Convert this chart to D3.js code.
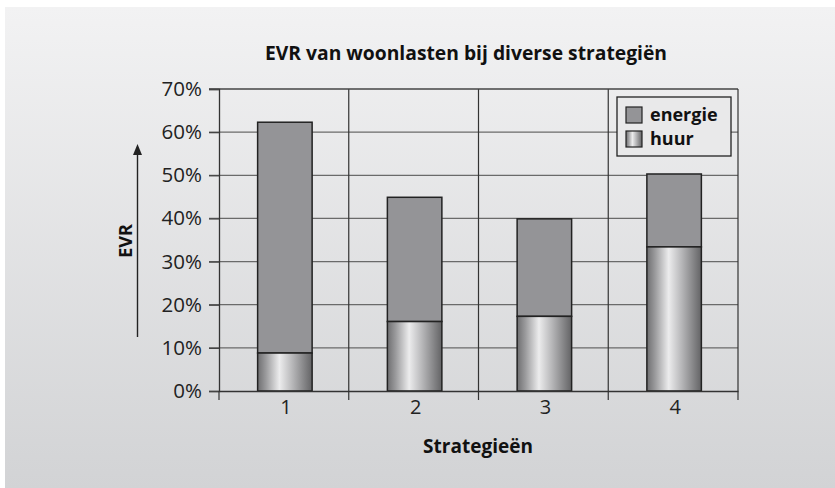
<!DOCTYPE html>
<html>
<head>
<meta charset="utf-8">
<script src="https://cdn.jsdelivr.net/npm/d3@7/dist/d3.min.js"></script>
<style>
  body { margin: 0; background: #fff; }
  svg { display: block; font-family: "Open Sans", Lato, sans-serif; }
</style>
</head>
<body>
<div id="chart"></div>
<script>
// data (fractions)
const strategies = ["1", "2", "3", "4"];
const huur = [0.088, 0.161, 0.173, 0.334];
const energie = [0.535, 0.288, 0.226, 0.169];
const yTicks = [0, 0.1, 0.2, 0.3, 0.4, 0.5, 0.6, 0.7];
const seriesNames = ["energie", "huur"];

const width = 835, height = 488;
const margin = { left: 219, top: 89, right: 97, bottom: 97 };

const svg = d3.select("#chart").append("svg")
  .attr("width", width)
  .attr("height", height);

const defs = svg.append("defs");

//#region gradients
const bg = defs.append("linearGradient").attr("id", "bg")
  .attr("x1", 0).attr("y1", 0).attr("x2", 0).attr("y2", 1);
bg.append("stop").attr("offset", "0%").attr("stop-color", "#f2f2f3");
bg.append("stop").attr("offset", "100%").attr("stop-color", "#d2d3d5");

const cyl = defs.append("linearGradient").attr("id", "cyl")
  .attr("x1", 0).attr("y1", 0).attr("x2", 1).attr("y2", 0);
[["0%", "#6e6e70"], ["15%", "#9a9a9c"], ["40%", "#ececed"], ["65%", "#b4b4b6"], ["100%", "#636365"]]
  .forEach(([o, c]) => cyl.append("stop").attr("offset", o).attr("stop-color", c));
//#endregion

svg.append("rect")
  .attr("x", 5).attr("y", 7)
  .attr("width", width - 5).attr("height", height - 7)
  .attr("fill", "url(#bg)");

//#region scales
const x = d3.scaleBand()
  .domain(strategies)
  .range([margin.left, width - margin.right]);

const y = d3.scaleLinear()
  .domain([0, 0.7])
  .range([height - margin.bottom, margin.top]);
//#endregion

//#region grid
const grid = svg.append("g");
grid.selectAll("line.h")
  .data(yTicks.slice(1, -1))
  .enter().append("line")
  .attr("x1", margin.left - 10).attr("x2", width - margin.right)
  .attr("y1", d => y(d)).attr("y2", d => y(d))
  .attr("stroke", "#6a6a6a").attr("stroke-width", 1.3);

grid.selectAll("line.v")
  .data(strategies.slice(1))
  .enter().append("line")
  .attr("x1", d => x(d)).attr("x2", d => x(d))
  .attr("y1", margin.top).attr("y2", y(0) + 9)
  .attr("stroke", "#333").attr("stroke-width", 1.2);

// top & right frame
grid.append("line")
  .attr("x1", margin.left - 10).attr("x2", width - margin.right)
  .attr("y1", y(0.7)).attr("y2", y(0.7))
  .attr("stroke", "#444").attr("stroke-width", 1.3);
grid.append("line")
  .attr("x1", width - margin.right).attr("x2", width - margin.right)
  .attr("y1", margin.top).attr("y2", y(0) + 9)
  .attr("stroke", "#333").attr("stroke-width", 1.2);
//#endregion

//#region bars
const barW = x.bandwidth() * 0.42;
const bars = svg.append("g");
strategies.forEach((s, i) => {
  const cx = x(s) + x.bandwidth() / 2 + 1;
  bars.append("rect")
    .attr("x", cx - barW / 2)
    .attr("y", y(huur[i] + energie[i]))
    .attr("width", barW)
    .attr("height", y(huur[i]) - y(huur[i] + energie[i]))
    .attr("fill", "#949497")
    .attr("stroke", "#222").attr("stroke-width", 1.5);
  bars.append("rect")
    .attr("x", cx - barW / 2)
    .attr("y", y(huur[i]))
    .attr("width", barW)
    .attr("height", y(0) - y(huur[i]))
    .attr("fill", "url(#cyl)")
    .attr("stroke", "#222").attr("stroke-width", 1.5);
});
//#endregion

//#region axes
const yAxis = svg.append("g")
  .attr("transform", `translate(${margin.left},0)`)
  .call(d3.axisLeft(y).tickValues(yTicks).tickFormat(d3.format(".0%")).tickSize(10).tickPadding(7));
yAxis.select(".domain").attr("stroke", "#333").attr("stroke-width", 1.3);
yAxis.selectAll(".tick line").attr("stroke", "#444").attr("stroke-width", 1.3);
yAxis.selectAll("text")
  .attr("fill", "#222").attr("font-size", 20.5).attr("font-family", "Open Sans");

const xAxis = svg.append("g")
  .attr("transform", `translate(0,${y(0)})`)
  .call(d3.axisBottom(x).tickSize(0).tickPadding(9));
xAxis.select(".domain").attr("stroke", "#333").attr("stroke-width", 1.3);
xAxis.selectAll("text")
  .attr("fill", "#222").attr("font-size", 20).attr("font-family", "Open Sans")
  .attr("dx", 2);

svg.append("line")
  .attr("x1", margin.left).attr("x2", margin.left)
  .attr("y1", y(0)).attr("y2", y(0) + 9)
  .attr("stroke", "#333").attr("stroke-width", 1.2);
//#endregion

//#region titles
svg.append("text")
  .attr("x", 466).attr("y", 60)
  .attr("text-anchor", "middle")
  .attr("font-size", 19.3).attr("font-weight", "bold").attr("fill", "#111")
  .text("EVR van woonlasten bij diverse strategiën");

svg.append("text")
  .attr("x", 478).attr("y", 453)
  .attr("text-anchor", "middle")
  .attr("font-size", 19).attr("font-weight", "bold").attr("fill", "#111")
  .text("Strategieën");

svg.append("text")
  .attr("transform", "translate(132,241) rotate(-90)")
  .attr("text-anchor", "middle")
  .attr("font-size", 18).attr("font-weight", "bold").attr("fill", "#111")
  .text("EVR");

svg.append("line")
  .attr("x1", 137.5).attr("x2", 137.5)
  .attr("y1", 337).attr("y2", 152)
  .attr("stroke", "#222").attr("stroke-width", 1.4);
svg.append("path")
  .attr("d", "M137.5,144 L133,155 L142,155 Z")
  .attr("fill", "#222");
//#endregion

//#region legend
const legend = svg.append("g").attr("transform", "translate(617,97)");
legend.append("rect")
  .attr("width", 114).attr("height", 59)
  .attr("fill", "#e9e9ea").attr("stroke", "#222").attr("stroke-width", 1.3);
const fills = ["#949497", "url(#cyl)"];
const items = legend.selectAll("g.item")
  .data(seriesNames)
  .enter().append("g")
  .attr("transform", (d, i) => `translate(9,${10 + i * 24})`);
items.append("rect")
  .attr("width", 16).attr("height", 16)
  .attr("fill", (d, i) => fills[i])
  .attr("stroke", "#222").attr("stroke-width", 1.2);
items.append("text")
  .attr("x", 24).attr("y", 14)
  .attr("font-size", 18).attr("font-weight", "bold").attr("fill", "#111")
  .text(d => d);
//#endregion
</script>
</body>
</html>
